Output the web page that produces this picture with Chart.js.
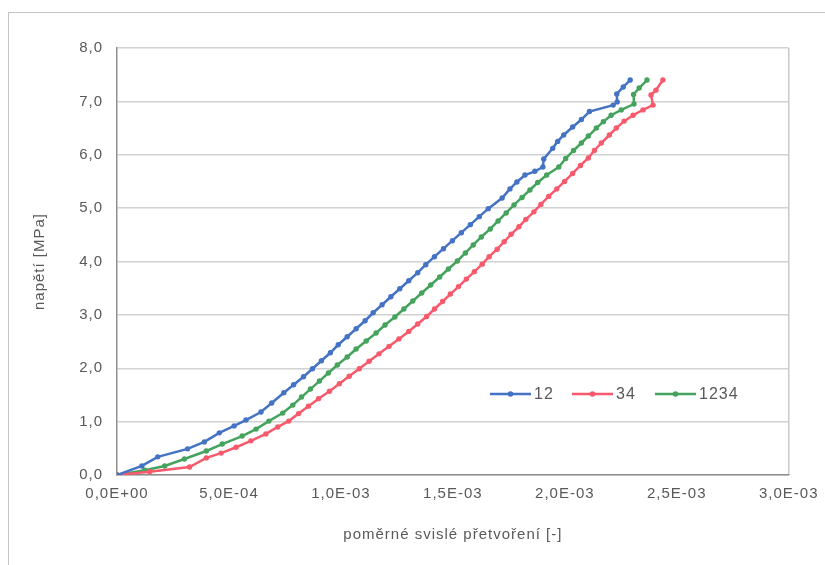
<!DOCTYPE html>
<html>
<head>
<meta charset="utf-8">
<script src="https://cdn.jsdelivr.net/npm/chart.js@4.4.1/dist/chart.umd.min.js"></script>
<style>
  html, body { margin: 0; padding: 0; background: #fff; }
  #wrap { position: relative; width: 825px; height: 565px; overflow: hidden; }
  #frame { position: absolute; left: 8px; top: 12px; width: 840px; height: 570px;
           border-left: 1.5px solid #c4c4c4; border-top: 1.5px solid #c4c4c4; }
  canvas { position: absolute; left: 0; top: 0; }
</style>
</head>
<body>
<div id="wrap">
  <div id="frame"></div>
  <canvas id="myChart" width="825" height="565"></canvas>
</div>
<script>
// series "12"
const strain12 = [0, 1.11e-4, 1.82e-4, 3.15e-4, 3.90e-4, 4.57e-4, 5.23e-4, 5.76e-4, 6.43e-4, 6.91e-4,
  7.45e-4, 7.89e-4, 8.33e-4, 8.73e-4, 9.13e-4, 9.53e-4, 9.88e-4, 10.28e-4, 10.68e-4, 11.08e-4,
  11.44e-4, 11.84e-4, 12.23e-4, 12.63e-4, 13.03e-4, 13.43e-4, 13.79e-4, 14.18e-4, 14.58e-4, 14.98e-4,
  15.38e-4, 15.78e-4, 16.18e-4, 16.58e-4, 17.20e-4, 17.55e-4, 17.86e-4, 18.22e-4, 18.66e-4, 19.02e-4,
  19.06e-4, 19.46e-4, 19.68e-4, 19.95e-4, 20.35e-4, 20.74e-4, 21.10e-4, 22.16e-4, 22.34e-4, 22.32e-4,
  22.61e-4, 22.92e-4];
const stress12 = [0, 0.17, 0.34, 0.49, 0.62, 0.79, 0.92, 1.03, 1.18, 1.35,
  1.54, 1.69, 1.84, 1.99, 2.14, 2.29, 2.44, 2.59, 2.74, 2.89,
  3.04, 3.19, 3.34, 3.49, 3.64, 3.79, 3.94, 4.09, 4.24, 4.39,
  4.54, 4.69, 4.84, 4.99, 5.19, 5.36, 5.49, 5.62, 5.69, 5.77,
  5.92, 6.12, 6.25, 6.37, 6.52, 6.66, 6.81, 6.93, 6.99, 7.14,
  7.27, 7.40];

// series "34"
const strain34 = [0, 1.46e-4, 3.24e-4, 3.99e-4, 4.65e-4, 5.32e-4, 5.98e-4, 6.65e-4, 7.18e-4, 7.67e-4,
  8.11e-4, 8.55e-4, 9.00e-4, 9.49e-4, 9.93e-4, 10.37e-4, 10.82e-4, 11.26e-4, 11.70e-4, 12.15e-4,
  12.59e-4, 13.03e-4, 13.43e-4, 13.83e-4, 14.18e-4, 14.54e-4, 14.89e-4, 15.25e-4, 15.60e-4, 15.96e-4,
  16.31e-4, 16.62e-4, 16.98e-4, 17.29e-4, 17.60e-4, 17.95e-4, 18.26e-4, 18.62e-4, 18.93e-4, 19.28e-4,
  19.64e-4, 19.99e-4, 20.35e-4, 20.70e-4, 21.05e-4, 21.32e-4, 21.63e-4, 21.99e-4, 22.30e-4, 22.65e-4,
  23.05e-4, 23.49e-4, 23.94e-4, 23.85e-4, 24.07e-4, 24.38e-4];
const stress34 = [0, 0.06, 0.15, 0.32, 0.41, 0.52, 0.64, 0.77, 0.90, 1.01,
  1.15, 1.29, 1.43, 1.57, 1.71, 1.85, 1.99, 2.13, 2.27, 2.41,
  2.55, 2.69, 2.83, 2.97, 3.11, 3.25, 3.39, 3.53, 3.67, 3.81,
  3.95, 4.09, 4.23, 4.37, 4.51, 4.65, 4.79, 4.93, 5.07, 5.22,
  5.36, 5.50, 5.65, 5.80, 5.94, 6.08, 6.22, 6.37, 6.50, 6.63,
  6.74, 6.84, 6.93, 7.12, 7.21, 7.40];

// series "1234"
const strain1234 = [0, 1.24e-4, 2.13e-4, 3.01e-4, 3.99e-4, 4.70e-4, 5.59e-4, 6.21e-4, 6.78e-4, 7.40e-4,
  7.85e-4, 8.24e-4, 8.64e-4, 9.04e-4, 9.44e-4, 9.84e-4, 10.28e-4, 10.68e-4, 11.13e-4, 11.57e-4,
  11.97e-4, 12.41e-4, 12.81e-4, 13.21e-4, 13.61e-4, 14.01e-4, 14.41e-4, 14.80e-4, 15.20e-4, 15.56e-4,
  15.91e-4, 16.27e-4, 16.67e-4, 17.02e-4, 17.38e-4, 17.73e-4, 18.09e-4, 18.44e-4, 18.79e-4, 19.19e-4,
  19.73e-4, 20.04e-4, 20.39e-4, 20.74e-4, 21.05e-4, 21.41e-4, 21.72e-4, 22.07e-4, 22.52e-4, 23.09e-4,
  23.07e-4, 23.32e-4, 23.67e-4];
const stress1234 = [0, 0.09, 0.17, 0.30, 0.45, 0.58, 0.73, 0.86, 1.01, 1.16,
  1.31, 1.46, 1.61, 1.76, 1.91, 2.06, 2.21, 2.36, 2.51, 2.66,
  2.81, 2.96, 3.11, 3.26, 3.41, 3.56, 3.71, 3.86, 4.01, 4.16,
  4.31, 4.46, 4.61, 4.76, 4.91, 5.06, 5.20, 5.34, 5.48, 5.62,
  5.77, 5.93, 6.08, 6.22, 6.35, 6.50, 6.62, 6.74, 6.84, 6.95,
  7.13, 7.25, 7.40];

const seriesNames = ["12", "34", "1234"];
const seriesColors = ["#4472C4", "#F65A6C", "#45A35E"];

const FONT = "'Liberation Sans', Arial, sans-serif";
const TEXT = "#595959";

function toPoints(xs, ys) {
  return xs.map((x, i) => ({ x: x, y: ys[i] }));
}

// 5,0E-04 style labels
function sciLabel(v) {
  if (Math.abs(v) < 1e-12) return "0,0E+00";
  const e = Math.floor(Math.log10(Math.abs(v)) + 1e-9);
  const m = v / Math.pow(10, e);
  return m.toFixed(1).replace(".", ",") + "E" + (e < 0 ? "-" : "+") + String(Math.abs(e)).padStart(2, "0");
}

const datasets = [
  [strain12, stress12],
  [strain34, stress34],
  [strain1234, stress1234]
].map((s, i) => ({
  label: seriesNames[i],
  data: toPoints(s[0], s[1]),
  showLine: true,
  borderColor: seriesColors[i],
  backgroundColor: seriesColors[i],
  borderWidth: 2.5,
  pointRadius: 2.7,
  pointHoverRadius: 2.7,
  pointBorderWidth: 0,
  tension: 0
}));

// the labels are spaced out a little
const wideText = {
  id: "wideText",
  beforeDraw(chart) {
    chart.ctx.letterSpacing = "1px";
  }
};

// legend drawn inside the plot area
const innerLegend = {
  id: "innerLegend",
  afterDatasetsDraw(chart) {
    const ctx = chart.ctx;
    const y = 394;
    const starts = [490, 572, 655];
    ctx.save();
    ctx.font = "16px " + FONT;
    ctx.textBaseline = "middle";
    chart.data.datasets.forEach((ds, i) => {
      const x0 = starts[i];
      ctx.strokeStyle = ds.borderColor;
      ctx.fillStyle = ds.borderColor;
      ctx.lineWidth = 2.5;
      ctx.beginPath();
      ctx.moveTo(x0, y);
      ctx.lineTo(x0 + 41, y);
      ctx.stroke();
      ctx.beginPath();
      ctx.arc(x0 + 20.5, y, 2.8, 0, Math.PI * 2);
      ctx.fill();
      ctx.fillStyle = TEXT;
      ctx.fillText(ds.label, x0 + 44, y + 1);
    });
    ctx.restore();
  }
};

const ctx = document.getElementById("myChart").getContext("2d");
new Chart(ctx, {
  type: "scatter",
  data: { datasets: datasets },
  plugins: [wideText, innerLegend],
  options: {
    responsive: false,
    animation: false,
    layout: { padding: { top: 48, right: 31, bottom: 0, left: 0 } },
    plugins: {
      legend: { display: false },
      tooltip: { enabled: false }
    },
    scales: {
      x: {
        type: "linear",
        min: 0,
        max: 3e-3,
        afterFit: (scale) => { scale.height = 90; },
        ticks: {
          stepSize: 5e-4,
          color: TEXT,
          padding: 10,
          maxRotation: 0,
          font: { family: FONT, size: 15 },
          callback: (v) => sciLabel(v)
        },
        grid: {
          drawTicks: false,
          lineWidth: 1.5,
          // only the right edge of the plot box
          color: (c) => (c.tick && c.tick.value > 2.99e-3 ? "#c8c8c8" : "rgba(0,0,0,0)")
        },
        border: { color: "#8f8f8f", width: 1.5 },
        title: {
          display: true,
          text: "poměrné svislé přetvoření [-]",
          color: TEXT,
          font: { family: FONT, size: 15 },
          padding: { top: 0, bottom: 21 }
        }
      },
      y: {
        min: 0,
        max: 8,
        afterFit: (scale) => { scale.width = 117; },
        ticks: {
          stepSize: 1,
          color: TEXT,
          padding: 14,
          font: { family: FONT, size: 15 },
          callback: (v) => v.toFixed(1).replace(".", ",")
        },
        grid: { drawTicks: false, color: "#d2d2d2", lineWidth: 1.5 },
        border: { color: "#8f8f8f", width: 1.5 },
        title: {
          display: true,
          text: "napětí [MPa]",
          color: TEXT,
          font: { family: FONT, size: 15 },
          padding: { top: 31, bottom: 0 }
        }
      }
    }
  }
});
</script>
</body>
</html>
